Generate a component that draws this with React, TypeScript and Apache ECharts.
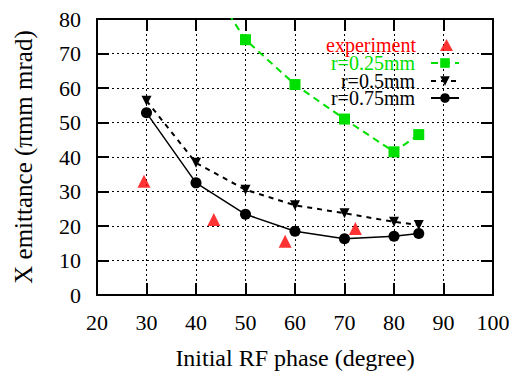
import React, { useEffect, useRef } from "react";
import * as echarts from "echarts";

const expX = [29.5, 43.6, 58, 72.2];
const expY = [33, 21.9, 15.6, 19.3];
const r025X = [40, 50, 60, 70, 80, 85];
const r025Y = [96, 74, 61, 51, 41.5, 46.5];
const r05X = [30, 40, 50, 60, 70, 80, 85];
const r05Y = [56.3, 38.3, 30.5, 26, 23.7, 21.2, 20.3];
const r075X = [30, 40, 50, 60, 70, 80, 85];
const r075Y = [52.8, 32.5, 23.4, 18.5, 16.3, 17, 17.8];

const FONT = "'Times New Roman', 'Liberation Serif', 'DejaVu Serif', serif";

const pairs = (xs: number[], ys: number[]) => xs.map((x, i) => [x, ys[i]]);

export default function App() {
  const ref = useRef<HTMLDivElement>(null);
  useEffect(() => {
    if (!ref.current) return;
    const chart = echarts.init(ref.current, null, { renderer: "svg" });
    const axisCommon = {
      type: "value" as const,
      interval: 10,
      axisLine: { show: true, onZero: false, lineStyle: { color: "#000", width: 2 } },
      axisTick: { show: true, inside: true, length: 12, lineStyle: { color: "#000", width: 2 } },
    };
    const legendItem = (
      name: string,
      color: string,
      top: number,
      itemWidth: number,
      right: number,
      pad: number
    ) => ({
      data: [{ name, textStyle: { color } }],
      orient: "vertical" as const,
      align: "right" as const,
      right,
      top,
      itemWidth,
      itemHeight: 12,
      padding: 0,
      textStyle: {
        fontFamily: FONT,
        fontSize: 20,
        lineHeight: 18,
        color,
        padding: [0, pad, 0, 0],
      },
    });
    chart.setOption({
      animation: false,
      textStyle: { fontFamily: FONT },
      grid: {
        left: 97,
        right: 19,
        top: 19,
        bottom: 78,
        containLabel: false,
        outerBoundsMode: "none",
      },
      legend: [
        legendItem("experiment", "#ff0000", 35, 13, 59, 19),
        legendItem("r=0.25mm", "#00e000", 53, 28, 52, 11),
        legendItem("r=0.5mm", "#000000", 71, 28, 52, 11),
        legendItem("r=0.75mm", "#000000", 88, 28, 52, 11),
      ],
      xAxis: [
        {
          ...axisCommon,
          min: 20,
          max: 100,
          position: "bottom",
          name: "Initial RF phase (degree)",
          nameLocation: "middle",
          nameGap: 51,
          nameTextStyle: { fontFamily: FONT, fontSize: 24, color: "#000" },
          axisLabel: { fontFamily: FONT, fontSize: 22, color: "#000", margin: 16 },
          splitLine: { show: true, lineStyle: { color: "#000", type: [2, 3], width: 1 } },
        },
        {
          ...axisCommon,
          min: 20,
          max: 100,
          position: "top",
          axisLabel: { show: false },
          splitLine: { show: false },
        },
      ],
      yAxis: [
        {
          ...axisCommon,
          min: 0,
          max: 80,
          position: "left",
          name: "X emittance (πmm mrad)",
          nameLocation: "middle",
          nameGap: 61,
          nameTextStyle: { fontFamily: FONT, fontSize: 25, color: "#000" },
          axisLabel: { fontFamily: FONT, fontSize: 22, color: "#000", margin: 16 },
          splitLine: { show: true, lineStyle: { color: "#000", type: [2, 3], width: 1 } },
        },
        {
          ...axisCommon,
          min: 0,
          max: 80,
          position: "right",
          axisLabel: { show: false },
          splitLine: { show: false },
        },
      ],
      series: [
        {
          name: "experiment",
          type: "scatter",
          data: pairs(expX, expY),
          symbol: "triangle",
          symbolSize: 13,
          itemStyle: { color: "#ff0000" },
        },
        {
          name: "r=0.25mm",
          type: "line",
          data: pairs(r025X, r025Y),
          symbol: "rect",
          symbolSize: 11,
          showAllSymbol: true,
          itemStyle: { color: "#00e000" },
          lineStyle: { color: "#00e000", width: 2, type: [7, 5] },
          clip: true,
        },
        {
          name: "r=0.5mm",
          type: "line",
          data: pairs(r05X, r05Y),
          symbol: "triangle",
          symbolRotate: 180,
          symbolSize: 10,
          itemStyle: { color: "#000" },
          lineStyle: { color: "#000", width: 2, type: [5, 5] },
        },
        {
          name: "r=0.75mm",
          type: "line",
          data: pairs(r075X, r075Y),
          symbol: "circle",
          symbolSize: 11,
          itemStyle: { color: "#000" },
          lineStyle: { color: "#000", width: 1.5 },
        },
      ],
    });
    return () => chart.dispose();
  }, []);
  return (
    <div
      ref={ref}
      style={{ position: "fixed", left: 0, top: 0, width: 512, height: 373, background: "#fff" }}
    />
  );
}
